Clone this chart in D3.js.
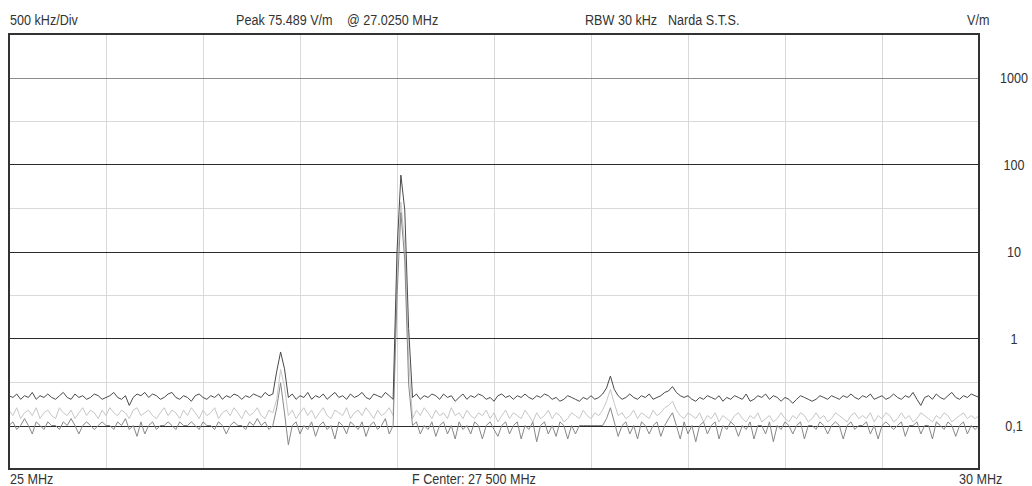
<!DOCTYPE html>
<html>
<head>
<meta charset="utf-8">
<script src="https://cdn.jsdelivr.net/npm/d3@7"></script>
<style>
  html, body { margin: 0; padding: 0; background: #fff; }
  svg text { font-family: "Liberation Sans", Arial, sans-serif; fill: #333; }
</style>
</head>
<body>
<div id="chart"></div>
<script>
// sweep: 25 - 30 MHz, one sample every 20 kHz (251 bins)
const sweepStartMHz = 25;
const sweepStepMHz = 0.02;

// dark trace (max hold)
const traceMax = [
  0.22,0.21,0.23,0.2,0.22,0.21,0.24,0.2,0.22,0.21,
  0.23,0.21,0.2,0.22,0.24,0.21,0.2,0.23,0.21,0.22,
  0.2,0.21,0.23,0.22,0.2,0.21,0.22,0.24,0.21,0.2,
  0.22,0.17,0.21,0.23,0.22,0.24,0.21,0.23,0.22,0.2,
  0.21,0.23,0.24,0.21,0.2,0.22,0.21,0.19,0.22,0.23,
  0.21,0.2,0.22,0.21,0.23,0.2,0.22,0.21,0.23,0.22,
  0.2,0.22,0.21,0.23,0.22,0.21,0.24,0.22,0.23,0.42,
  0.7,0.45,0.21,0.23,0.2,0.22,0.21,0.24,0.2,0.22,
  0.21,0.23,0.2,0.22,0.24,0.21,0.22,0.2,0.23,0.21,
  0.22,0.24,0.21,0.2,0.23,0.22,0.21,0.24,0.22,0.2,
  10,75.489,30,1.3,0.21,0.23,0.2,0.22,0.21,0.23,
  0.22,0.2,0.23,0.21,0.22,0.19,0.21,0.23,0.2,0.22,
  0.21,0.23,0.22,0.2,0.21,0.19,0.22,0.23,0.21,0.22,
  0.2,0.22,0.21,0.23,0.21,0.2,0.22,0.21,0.23,0.22,
  0.2,0.21,0.19,0.2,0.22,0.21,0.2,0.19,0.21,0.2,
  0.22,0.2,0.21,0.23,0.27,0.37,0.26,0.22,0.2,0.21,
  0.23,0.21,0.2,0.22,0.21,0.23,0.2,0.21,0.22,0.24,
  0.25,0.28,0.24,0.22,0.21,0.22,0.2,0.19,0.21,0.2,
  0.22,0.21,0.2,0.22,0.19,0.21,0.2,0.22,0.21,0.2,
  0.23,0.19,0.2,0.22,0.21,0.23,0.2,0.22,0.21,0.19,
  0.21,0.2,0.18,0.2,0.22,0.21,0.2,0.19,0.2,0.22,
  0.21,0.2,0.22,0.21,0.2,0.22,0.21,0.23,0.21,0.2,
  0.22,0.21,0.23,0.2,0.21,0.22,0.2,0.21,0.23,0.21,
  0.2,0.22,0.21,0.24,0.2,0.17,0.21,0.22,0.2,0.23,
  0.21,0.2,0.22,0.24,0.21,0.2,0.22,0.21,0.23,0.22,
  0.21
];

// light grey trace (average)
const traceAvg = [
  0.15,0.13,0.16,0.12,0.14,0.15,0.13,0.16,0.12,0.14,
  0.15,0.13,0.12,0.16,0.14,0.13,0.15,0.12,0.14,0.16,
  0.13,0.15,0.14,0.12,0.15,0.13,0.16,0.14,0.13,0.15,
  0.14,0.12,0.15,0.16,0.13,0.14,0.15,0.13,0.12,0.14,
  0.16,0.13,0.15,0.14,0.12,0.15,0.13,0.16,0.14,0.12,
  0.15,0.13,0.14,0.16,0.12,0.14,0.15,0.13,0.16,0.14,
  0.12,0.15,0.13,0.14,0.16,0.13,0.12,0.15,0.14,0.2,
  0.44,0.28,0.13,0.15,0.12,0.14,0.16,0.13,0.15,0.12,
  0.14,0.16,0.13,0.12,0.15,0.14,0.13,0.16,0.12,0.14,
  0.15,0.13,0.16,0.14,0.12,0.15,0.13,0.14,0.16,0.13,
  6,37,12,0.6,0.12,0.15,0.13,0.16,0.14,0.12,
  0.15,0.13,0.14,0.12,0.16,0.13,0.14,0.12,0.15,0.13,
  0.12,0.14,0.13,0.15,0.12,0.14,0.11,0.13,0.15,0.12,
  0.14,0.13,0.12,0.15,0.13,0.11,0.14,0.12,0.13,0.15,
  0.12,0.14,0.13,0.11,0.12,0.14,0.13,0.12,0.15,0.13,
  0.12,0.14,0.13,0.15,0.19,0.26,0.18,0.13,0.14,0.12,
  0.13,0.15,0.12,0.14,0.13,0.12,0.15,0.13,0.14,0.16,
  0.17,0.19,0.15,0.13,0.12,0.14,0.13,0.12,0.14,0.11,
  0.13,0.12,0.14,0.11,0.13,0.12,0.11,0.13,0.14,0.12,
  0.11,0.13,0.12,0.14,0.11,0.12,0.13,0.11,0.12,0.14,
  0.12,0.11,0.13,0.12,0.14,0.13,0.11,0.12,0.14,0.12,
  0.13,0.11,0.12,0.14,0.13,0.12,0.11,0.13,0.14,0.12,
  0.13,0.12,0.14,0.11,0.13,0.12,0.14,0.13,0.11,0.12,
  0.14,0.12,0.13,0.11,0.12,0.14,0.13,0.12,0.11,0.13,
  0.12,0.14,0.13,0.11,0.12,0.13,0.14,0.12,0.13,0.12,
  0.13
];

// mid grey trace (actual)
const traceAct = [
  0.1,0.11,0.09,0.1,0.12,0.1,0.08,0.11,0.1,0.09,
  0.11,0.1,0.1,0.09,0.11,0.1,0.12,0.1,0.08,0.1,
  0.11,0.1,0.09,0.1,0.11,0.1,0.1,0.09,0.11,0.1,
  0.12,0.09,0.1,0.075,0.11,0.08,0.1,0.11,0.09,0.1,
  0.1,0.11,0.1,0.09,0.11,0.1,0.1,0.11,0.1,0.09,
  0.11,0.1,0.1,0.09,0.11,0.1,0.08,0.1,0.11,0.1,
  0.1,0.09,0.11,0.1,0.12,0.1,0.11,0.09,0.1,0.16,
  0.31,0.14,0.06,0.1,0.11,0.08,0.1,0.09,0.11,0.075,
  0.1,0.11,0.09,0.1,0.07,0.11,0.1,0.08,0.11,0.1,
  0.09,0.11,0.075,0.1,0.11,0.09,0.1,0.12,0.08,0.1,
  3,28,8,0.3,0.1,0.11,0.08,0.1,0.09,0.11,
  0.075,0.1,0.11,0.08,0.1,0.07,0.11,0.09,0.1,0.08,
  0.11,0.1,0.07,0.1,0.11,0.09,0.075,0.1,0.11,0.08,
  0.1,0.11,0.07,0.1,0.09,0.11,0.065,0.1,0.11,0.08,
  0.1,0.075,0.11,0.1,0.07,0.1,0.08,0.1,0.1,0.1,
  0.1,0.1,0.1,0.1,0.12,0.16,0.11,0.075,0.1,0.11,
  0.08,0.1,0.07,0.11,0.1,0.08,0.1,0.11,0.075,0.1,
  0.12,0.14,0.1,0.07,0.11,0.08,0.1,0.065,0.1,0.11,
  0.08,0.1,0.11,0.07,0.1,0.09,0.11,0.1,0.075,0.1,
  0.09,0.11,0.07,0.1,0.1,0.08,0.11,0.065,0.1,0.09,
  0.11,0.1,0.08,0.1,0.11,0.07,0.1,0.1,0.09,0.11,
  0.1,0.08,0.1,0.11,0.1,0.07,0.1,0.11,0.09,0.1,
  0.1,0.11,0.08,0.1,0.07,0.1,0.11,0.1,0.09,0.1,
  0.11,0.075,0.1,0.1,0.11,0.08,0.1,0.1,0.07,0.11,
  0.1,0.09,0.11,0.1,0.075,0.1,0.11,0.08,0.1,0.09,
  0.1
];

const yTickValues = [0.1, 1, 10, 100, 1000];
const yTickLabels = ['0,1', '1', '10', '100', '1000'];
const yHalfDecades = [0.316, 3.16, 31.6, 316];

const width = 1032;
const height = 486;
const plot = { left: 9, right: 979, top: 34, bottom: 469 };
const narrow = 0.84;   // condensed look of the instrument font

const svg = d3.select('#chart')
  .append('svg')
  .attr('width', width)
  .attr('height', height);

const x = d3.scaleLinear()
  .domain([25, 30])
  .range([plot.left, plot.right]);

const y = d3.scaleLog()
  .domain([Math.pow(10, -1.5), Math.pow(10, 3.5)])
  .range([plot.bottom, plot.top]);

// grid
const grid = svg.append('g');

grid.selectAll('line.vgrid')
  .data(x.ticks(10).slice(1, -1))
  .enter()
  .append('line')
  .attr('x1', (d) => Math.round(x(d)) + 0.5)
  .attr('x2', (d) => Math.round(x(d)) + 0.5)
  .attr('y1', plot.top)
  .attr('y2', plot.bottom)
  .attr('stroke', '#d9d9d9')
  .attr('stroke-width', 1);

grid.selectAll('line.hhalf')
  .data(yHalfDecades)
  .enter()
  .append('line')
  .attr('x1', plot.left)
  .attr('x2', plot.right)
  .attr('y1', (d) => Math.round(y(d)) + 0.5)
  .attr('y2', (d) => Math.round(y(d)) + 0.5)
  .attr('stroke', '#d9d9d9')
  .attr('stroke-width', 1);

grid.selectAll('line.hdec')
  .data(yTickValues)
  .enter()
  .append('line')
  .attr('x1', plot.left)
  .attr('x2', plot.right)
  .attr('y1', (d) => Math.round(y(d)) + 0.5)
  .attr('y2', (d) => Math.round(y(d)) + 0.5)
  .attr('stroke', (d) => (d === 1000 ? '#8c8c8c' : '#2b2b2b'))
  .attr('stroke-width', 1);

// traces
svg.append('clipPath')
  .attr('id', 'plot-clip')
  .append('rect')
  .attr('x', plot.left)
  .attr('y', plot.top)
  .attr('width', plot.right - plot.left)
  .attr('height', plot.bottom - plot.top);

const line = d3.line()
  .x((d, i) => x(sweepStartMHz + i * sweepStepMHz))
  .y((d) => y(d));

const traces = [
  { values: traceAvg, color: '#c6c6c6' },
  { values: traceAct, color: '#878787' },
  { values: traceMax, color: '#4a4a4a' },
];

svg.append('g')
  .attr('clip-path', 'url(#plot-clip)')
  .selectAll('path')
  .data(traces)
  .enter()
  .append('path')
  .attr('d', (d) => line(d.values))
  .attr('fill', 'none')
  .attr('stroke', (d) => d.color)
  .attr('stroke-width', 1)
  .attr('stroke-linejoin', 'round');

// frame
svg.append('rect')
  .attr('x', plot.left)
  .attr('y', plot.top)
  .attr('width', plot.right - plot.left)
  .attr('height', plot.bottom - plot.top)
  .attr('fill', 'none')
  .attr('stroke', '#333')
  .attr('stroke-width', 2);

// y labels
svg.append('g')
  .selectAll('text')
  .data(yTickValues)
  .enter()
  .append('text')
  .attr('transform', (d) => `translate(1014, ${y(d)}) scale(${narrow}, 1)`)
  .attr('dy', '0.35em')
  .attr('text-anchor', 'middle')
  .style('font-size', '15px')
  .text((d, i) => yTickLabels[i]);

// header / footer texts
const labels = [
  { text: '500 kHz/Div', x: 10, y: 25 },
  { text: 'Peak 75.489 V/m', x: 236, y: 25 },
  { text: '@ 27.0250 MHz', x: 347, y: 25 },
  { text: 'RBW 30 kHz', x: 585, y: 25 },
  { text: 'Narda S.T.S.', x: 668, y: 25 },
  { text: 'V/m', x: 967, y: 25 },
  { text: '25 MHz', x: 10, y: 484 },
  { text: 'F Center: 27 500 MHz', x: 412, y: 484 },
  { text: '30 MHz', x: 959, y: 484 },
];

svg.append('g')
  .selectAll('text')
  .data(labels)
  .enter()
  .append('text')
  .attr('transform', (d) => `translate(${d.x}, ${d.y}) scale(${narrow}, 1)`)
  .style('font-size', '15px')
  .text((d) => d.text);
</script>
</body>
</html>
